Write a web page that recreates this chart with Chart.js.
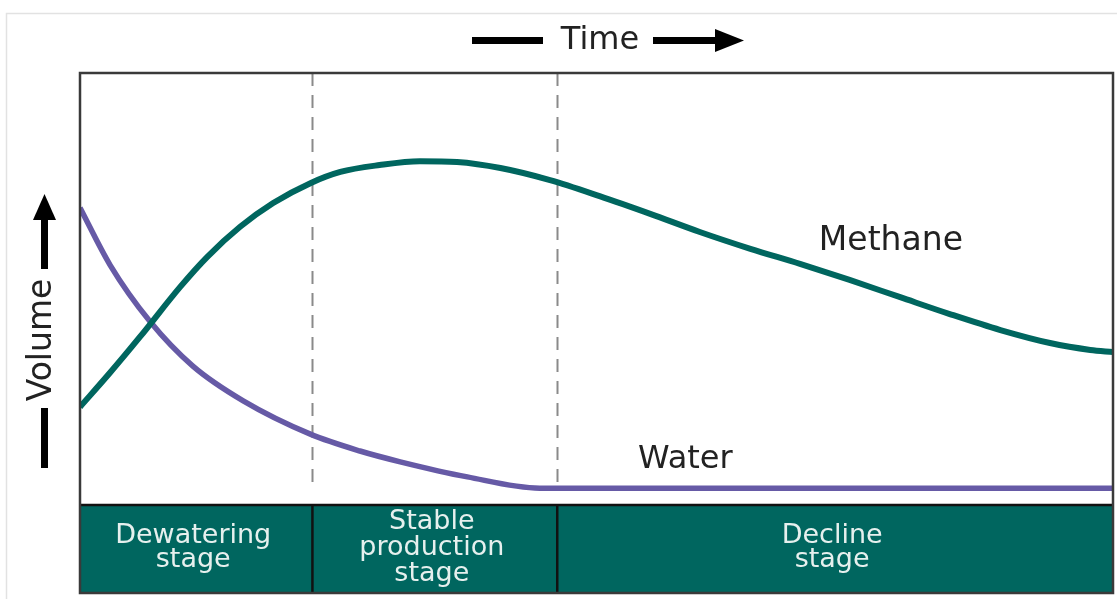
<!DOCTYPE html>
<html>
<head>
<meta charset="utf-8">
<script src="https://cdn.jsdelivr.net/npm/chart.js@4/dist/chart.umd.min.js"></script>
<style>
  html, body { margin: 0; padding: 0; background: #ffffff; }
  #wrap { width: 1117px; height: 599px; position: relative; }
</style>
</head>
<body>
<div id="wrap"><canvas id="c" width="1117" height="599"></canvas></div>
<script>
// ---- data (time axis 0..100, volume axis 0..100, relative units) ----
const methaneTime  = [0, 2.9, 5.8, 9.7, 12.3, 15.5, 18.7, 22.3, 25.2, 29.0, 32.9, 36.5, 40.7, 45.5, 50.3, 55.2, 60.0, 64.9, 69.7, 74.5, 79.4, 84.2, 89.1, 93.9, 97.8, 100];
const methaneVol   = [22.7, 30.6, 38.9, 50.5, 57.4, 64.4, 69.9, 74.5, 77.1, 78.7, 79.6, 79.4, 78.0, 75.2, 71.5, 67.4, 63.2, 59.3, 55.8, 52.1, 48.1, 44.2, 40.5, 37.5, 35.9, 35.4];
const waterTime    = [0, 2.9, 6.8, 10.9, 15.8, 22.3, 27.1, 31.0, 37.5, 44.5, 60, 80, 100];
const waterVol     = [68.8, 55.6, 42.4, 32.2, 24.1, 16.4, 12.5, 10.0, 6.5, 3.9, 3.9, 3.9, 3.9];
const stageBounds  = [0, 22.5, 46.2, 100];
const stageLabels  = [["Dewatering", "stage"], ["Stable", "production", "stage"], ["Decline", "stage"]];
const seriesNames  = ["Methane", "Water"];
const axisTitles   = ["Time", "Volume"];

const FONT = '"DejaVu Sans", sans-serif';
const TEAL = '#00665f';
const PURPLE = '#665aa6';

function pts(xs, ys) { return xs.map((x, i) => ({ x: x, y: ys[i] })); }

const decor = {
  id: 'decor',
  beforeDatasetsDraw(chart) {
    const ctx = chart.ctx, xs = chart.scales.x, a = chart.chartArea;
    ctx.save();
    ctx.strokeStyle = '#8a8a8a';
    ctx.lineWidth = 2;
    ctx.setLineDash([13, 9]);
    for (let i = 1; i < stageBounds.length - 1; i++) {
      const px = Math.round(xs.getPixelForValue(stageBounds[i])) + 0.5;
      ctx.beginPath();
      ctx.moveTo(px, a.top);
      ctx.lineTo(px, a.bottom - 15);
      ctx.stroke();
    }
    ctx.restore();
  },
  afterDatasetsDraw(chart) {
    const ctx = chart.ctx, xs = chart.scales.x, ys = chart.scales.y, a = chart.chartArea;
    const bandH = 88;
    ctx.save();
    // outer light border
    ctx.strokeStyle = '#e2e2e2';
    ctx.lineWidth = 1.5;
    ctx.strokeRect(6.5, 13.5, 1200, 700);

    // stage band
    ctx.fillStyle = TEAL;
    ctx.fillRect(a.left, a.bottom, a.right - a.left, bandH);
    ctx.strokeStyle = '#111';
    ctx.lineWidth = 2.5;
    ctx.beginPath();
    ctx.moveTo(a.left, a.bottom); ctx.lineTo(a.right, a.bottom);
    for (let i = 1; i < stageBounds.length - 1; i++) {
      const px = xs.getPixelForValue(stageBounds[i]);
      ctx.moveTo(px, a.bottom); ctx.lineTo(px, a.bottom + bandH);
    }
    ctx.stroke();
    // frame
    ctx.strokeStyle = '#3a3a3a';
    ctx.lineWidth = 2.5;
    ctx.strokeRect(a.left, a.top, a.right - a.left, a.bottom + bandH - a.top);

    // stage labels
    ctx.fillStyle = '#e6f0ee';
    ctx.font = '27px ' + FONT;
    ctx.textAlign = 'center';
    ctx.textBaseline = 'middle';
    const midY = a.bottom + bandH / 2 - 1;
    stageLabels.forEach((lines, i) => {
      const lh = lines.length > 2 ? 26 : 24;
      const cx = (xs.getPixelForValue(stageBounds[i]) + xs.getPixelForValue(stageBounds[i + 1])) / 2 - 3;
      const y0 = midY - (lines.length - 1) * lh / 2;
      lines.forEach((t, j) => ctx.fillText(t, cx, y0 + j * lh));
    });

    // series labels
    ctx.fillStyle = '#222';
    ctx.font = '33px ' + FONT;
    ctx.fillText(seriesNames[0], xs.getPixelForValue(78.5), ys.getPixelForValue(61));
    ctx.font = '32px ' + FONT;
    ctx.fillText(seriesNames[1], xs.getPixelForValue(58.6), ys.getPixelForValue(10.4));

    // Time title with arrows
    ctx.fillStyle = '#222';
    ctx.font = '32px ' + FONT;
    ctx.fillText(axisTitles[0], 600, 41);
    ctx.fillStyle = '#000';
    ctx.fillRect(472, 37, 71, 7);
    ctx.fillRect(653, 37, 66, 7);
    ctx.beginPath();
    ctx.moveTo(715, 29); ctx.lineTo(744, 40.5); ctx.lineTo(715, 52); ctx.closePath();
    ctx.fill();

    // Volume title with arrows (rotated)
    ctx.save();
    ctx.translate(42, 340);
    ctx.rotate(-Math.PI / 2);
    ctx.fillStyle = '#222';
    ctx.font = '33px ' + FONT;
    ctx.fillText(axisTitles[1], 0, 0);
    ctx.restore();
    ctx.fillStyle = '#000';
    ctx.fillRect(41, 408, 7, 60);
    ctx.fillRect(41, 215, 7, 54);
    ctx.beginPath();
    ctx.moveTo(33, 220); ctx.lineTo(44.5, 194); ctx.lineTo(56, 220); ctx.closePath();
    ctx.fill();
    ctx.restore();
  }
};

new Chart(document.getElementById('c'), {
  type: 'line',
  data: {
    datasets: [
      { label: seriesNames[0], data: pts(methaneTime, methaneVol), borderColor: TEAL, borderWidth: 6,
        pointRadius: 0, cubicInterpolationMode: 'monotone', fill: false },
      { label: seriesNames[1], data: pts(waterTime, waterVol), borderColor: PURPLE, borderWidth: 5.5,
        pointRadius: 0, cubicInterpolationMode: 'monotone', fill: false }
    ]
  },
  options: {
    responsive: false,
    animation: false,
    events: [],
    layout: { padding: { left: 80, right: 4, top: 73, bottom: 94 } },
    plugins: { legend: { display: false }, tooltip: { enabled: false }, title: { display: false } },
    scales: {
      x: { type: 'linear', min: 0, max: 100, display: false },
      y: { type: 'linear', min: 0, max: 100, display: false }
    }
  },
  plugins: [decor]
});
</script>
</body>
</html>
